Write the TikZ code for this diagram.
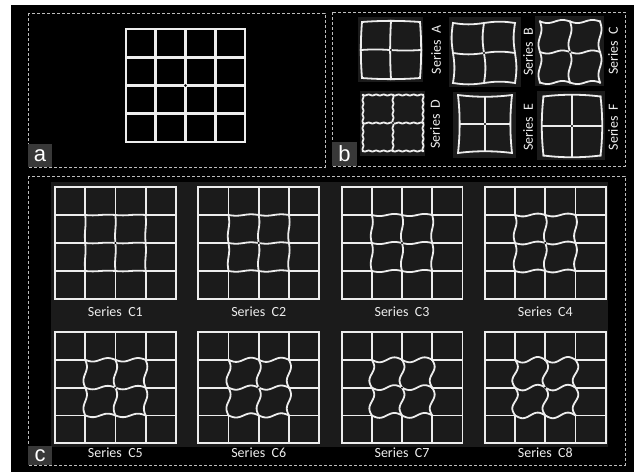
\documentclass[tikz,border=0pt]{standalone}
\usepackage{fontspec}
\setmainfont{Carlito}
\newfontfamily\labfont{Liberation Sans}
\definecolor{lncol}{HTML}{EDEDED}
\definecolor{tilebg}{HTML}{1B1B1B}
\definecolor{dashcol}{HTML}{BDBDBD}
\definecolor{labbg}{HTML}{383838}
\tikzset{
  panelbox/.style={draw=dashcol,line width=0.9pt,dash pattern=on 3pt off 2pt},
  aline/.style={draw=lncol,line width=2.6pt,line cap=rect},
  cline/.style={draw=lncol,line width=1.8pt,line cap=rect},
  tline/.style={draw=lncol,line width=1.8pt,line cap=rect},
  slab/.style={text=lncol,inner sep=0pt,font=\fontsize{14}{16}\selectfont},
  panlab/.style={fill=labbg,text=white,inner sep=0pt,font=\labfont\fontsize{22}{24}\selectfont},
}
\newcommand\cgrid[5]{% x0 y0 cw ch amp
  \draw[cline] (#1,#2) rectangle ++(4*#3,4*#4);
  \foreach \j in {1,2,3}{
    \draw[cline] (#1,#2+\j*#4) -- ++(#3,0);
    \draw[cline] (#1+3*#3,#2+\j*#4) -- ++(#3,0);
    \draw[cline] plot[variable=\t,domain=1:3,samples=49,smooth] ({#1+\t*#3},{#2+\j*#4+#5*sin(360*\t)});
    \draw[cline] (#1+\j*#3,#2) -- ++(0,#4);
    \draw[cline] (#1+\j*#3,#2+3*#4) -- ++(0,#4);
    \draw[cline] plot[variable=\t,domain=1:3,samples=49,smooth] ({#1+\j*#3+#5*sin(360*\t)},{#2+\t*#4});
  }
  \fill[black] (#1+2*#3,#2+2*#4) circle (1.1);
}
\newcommand\tgrid[6]{% cx cy hx hy dx dy
  \foreach \u in {-1,0,1}{
    \draw[tline] plot[variable=\v,domain=-1:1,samples=161,smooth] ({#1+#3*(\u+#5)},{#2+#4*(\v+#6)});
  }
  \foreach \v in {-1,0,1}{
    \draw[tline] plot[variable=\u,domain=-1:1,samples=161,smooth] ({#1+#3*(\u+#5)},{#2+#4*(\v+#6)});
  }
  \fill[black] (#1,#2) circle (1.1);
}
\begin{document}
\begin{tikzpicture}[x=1pt,y=-1pt]
\useasboundingbox (0,0) rectangle (634,472);
\fill[white] (0,0) rectangle (634,472);
\fill[black] (11,5) rectangle (634,472);
% panel boxes
\draw[panelbox] (28,13) rectangle (325,167);
\draw[panelbox] (332,12) rectangle (625,166);
\draw[panelbox] (28,176) rectangle (625,465);
% panel a
\draw[aline] (126,29) rectangle (245,142);
\foreach \i in {1,2,3}{
  \draw[aline] (126+\i*29.75,29) -- (126+\i*29.75,142);
  \draw[aline] (126,29+\i*28.25) -- (245,29+\i*28.25);
}
\fill[black] (185.5,85.5) circle (1.3);
\node[panlab,minimum width=24pt,minimum height=23pt] (la) at (40,155.5) {a};
% panel b tiles
\fill[tilebg] (358,17) rectangle (423,82);
\fill[tilebg] (449,17) rectangle (521,87);
\fill[tilebg] (535,16) rectangle (604,86);
\fill[tilebg] (360,91) rectangle (425,156);
\fill[tilebg] (453,92) rectangle (516,158);
\fill[tilebg] (537,91) rectangle (605,160);
\tgrid{391}{50}{29}{28}{0.04*(\u)*(1-(\v)*(\v))-0.03*(1-(\u)*(\u))*(1-(\v)*(\v))}{0.04*(\v)*(1-(\u)*(\u))+0.02*(1-(\v)*(\v))*sin(180*(\u))}
\tgrid{484}{53}{31}{30}{0.045*sin(180*(\v))}{-0.045*sin(180*(\u))}
\tgrid{570}{52}{30}{30.5}{0.05*sin(360*(\v))}{0.05*sin(360*(\u))}
\tgrid{393}{123}{30}{28}{0.016*sin(1440*(\v))}{0.016*sin(1440*(\u))}
\tgrid{485}{124}{27}{29}{-0.06*(\u)*(1-(\v)*(\v))}{-0.06*(\v)*(1-(\u)*(\u))}
\tgrid{572}{126}{28.5}{29.5}{0.06*(\u)*(1-(\v)*(\v))}{0.06*(\v)*(1-(\u)*(\u))}
\node[slab,rotate=90] (sA) at (436,50) {Series\ \ A};
\node[slab,rotate=90] (sB) at (528,52) {Series\ \ B};
\node[slab,rotate=90] (sC) at (613,51) {Series\ \ C};
\node[slab,rotate=90] (sD) at (435,124) {Series\ \ D};
\node[slab,rotate=90] (sE) at (528,127) {Series\ \ E};
\node[slab,rotate=90] (sF) at (613,127) {Series\ \ F};
\node[panlab,minimum width=25pt,minimum height=24pt] (lb) at (344.5,154) {b};
% panel c
\fill[tilebg] (51,182) rectangle (608,447);
\cgrid{55}{187}{30.2}{28}{0.35}
\cgrid{198.3}{187}{30.2}{28}{0.7}
\cgrid{341.6}{187}{30.2}{28}{1.05}
\cgrid{484.9}{187}{30.2}{28}{1.4}
\cgrid{55}{332}{30.2}{27.8}{1.75}
\cgrid{198.3}{332}{30.2}{27.8}{2.1}
\cgrid{341.6}{332}{30.2}{27.8}{2.45}
\cgrid{484.9}{332}{30.2}{27.8}{2.8}
\node[slab] (c1) at (115.4,312) {Series\ \ C1};
\node[slab] (c2) at (258.7,312) {Series\ \ C2};
\node[slab] (c3) at (402,312) {Series\ \ C3};
\node[slab] (c4) at (545.3,312) {Series\ \ C4};
\node[slab] (c5) at (115.4,453) {Series\ \ C5};
\node[slab] (c6) at (258.7,453) {Series\ \ C6};
\node[slab] (c7) at (402,453) {Series\ \ C7};
\node[slab] (c8) at (545.3,453) {Series\ \ C8};
\node[panlab,minimum width=24pt,minimum height=19pt] (lc) at (40,455.5) {c};
\end{tikzpicture}
\end{document}
